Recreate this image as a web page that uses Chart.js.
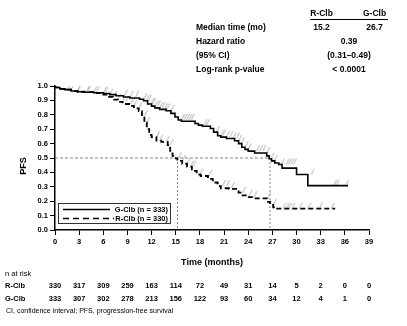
<!DOCTYPE html>
<html>
<head>
<meta charset="utf-8">
<script src="https://cdn.jsdelivr.net/npm/chart.js@4.4.1/dist/chart.umd.min.js"></script>
<style>
  html, body { margin: 0; padding: 0; background: #fff; }
  canvas { display: block; }
</style>
</head>
<body>
<canvas id="pfsChart" width="407" height="326"></canvas>
<script>
const FONT = '"Liberation Sans", Arial, sans-serif';

// Kaplan-Meier steps: time (months) and survival after the step
const gTimes = [0, 0.6, 1.2, 2.0, 2.8, 3.6, 4.8, 6.0, 6.8, 7.6, 8.5, 9.3, 10.5, 11.0, 11.5, 12.0, 12.4, 13.0, 13.8, 14.4, 14.9, 15.3, 15.7, 17.4, 17.8, 18.3, 19.3, 19.7, 20.2, 20.6, 21.3, 22.3, 22.8, 23.2, 23.6, 24.0, 24.8, 26.3, 26.6, 26.9, 27.3, 27.8, 28.2, 30.0, 31.4, 33.2, 36.4];
const gSurv  = [1.0, 0.99, 0.98, 0.975, 0.965, 0.96, 0.957, 0.953, 0.948, 0.94, 0.932, 0.924, 0.917, 0.908, 0.898, 0.875, 0.86, 0.848, 0.838, 0.828, 0.81, 0.785, 0.764, 0.755, 0.74, 0.728, 0.72, 0.705, 0.68, 0.655, 0.645, 0.635, 0.62, 0.6, 0.575, 0.56, 0.548, 0.535, 0.515, 0.495, 0.48, 0.465, 0.455, 0.43, 0.385, 0.308, 0.308];

const rTimes = [0, 0.6, 1.2, 2.0, 2.8, 3.6, 4.8, 6.0, 6.6, 7.2, 7.8, 8.4, 9.2, 9.8, 10.4, 10.8, 11.1, 11.4, 11.7, 12.0, 12.6, 13.2, 14.0, 14.3, 14.6, 15.0, 15.2, 15.8, 16.4, 17.0, 17.6, 18.1, 19.0, 19.6, 20.2, 20.6, 21.6, 22.8, 23.3, 23.8, 24.6, 26.3, 26.7, 27.1, 27.4, 28.3, 34.8];
const rSurv  = [1.0, 0.99, 0.98, 0.975, 0.965, 0.96, 0.957, 0.95, 0.94, 0.925, 0.905, 0.89, 0.875, 0.862, 0.845, 0.825, 0.79, 0.745, 0.7, 0.66, 0.645, 0.62, 0.612, 0.59, 0.55, 0.515, 0.498, 0.48, 0.46, 0.44, 0.41, 0.385, 0.375, 0.355, 0.33, 0.305, 0.29, 0.285, 0.26, 0.24, 0.228, 0.22, 0.195, 0.175, 0.158, 0.148, 0.148];

// censored observations (months)
const gCensor = [2.2, 3.0, 4.1, 5.0, 6.2, 8.8, 9.5, 10.2, 11.2, 11.5, 11.8, 12.1, 12.3, 12.6, 12.9, 13.2, 13.5, 13.8, 14.1, 14.6, 15.9, 16.2, 16.5, 16.8, 17.1, 18.7, 19.0, 20.2, 20.8, 21.0, 21.5, 21.9, 22.3, 22.7, 23.0, 23.3, 23.8, 24.2, 25.2, 25.6, 26.0, 26.5, 27.0, 27.4, 28.3, 28.9, 29.2, 29.5, 29.8, 32.0, 34.8, 35.1, 36.3];
const rCensor = [1.8, 3.0, 4.2, 5.3, 6.4, 7.0, 7.5, 8.0, 8.6, 9.0, 9.6, 10.0, 10.6, 11.3, 11.6, 12.8, 13.2, 14.0, 14.5, 15.5, 16.0, 16.6, 17.0, 17.3, 18.2, 19.3, 21.0, 21.5, 22.1, 23.5, 24.3, 24.9, 26.6, 27.3, 28.5, 28.9, 29.2, 29.6, 30.5, 31.6, 33.0, 34.5];

// number at risk at each x tick
const riskTimes = [0, 3, 6, 9, 12, 15, 18, 21, 24, 27, 30, 33, 36, 39];
const riskR = [330, 317, 309, 259, 163, 114, 72, 49, 31, 14, 5, 2, 0, 0];
const riskG = [333, 307, 302, 278, 213, 156, 122, 93, 60, 34, 12, 4, 1, 0];

const groupNames = ['R-Clb', 'G-Clb'];
const medianTimes = [15.2, 26.7];
const statRows = ['Median time (mo)', 'Hazard ratio', '(95% CI)', 'Log-rank p-value'];
const statValues = ['0.39', '(0.31\u20130.49)', '< 0.0001'];

function survAt(times, surv, t) {
  let s = surv[0];
  for (let i = 0; i < times.length; i++) {
    if (times[i] <= t) s = surv[i];
  }
  return s;
}

function toPoints(times, surv) {
  return times.map((t, i) => ({ x: t, y: surv[i] }));
}

// small grey slash sitting just above the curve
function censorMark() {
  const c = document.createElement('canvas');
  c.width = 6; c.height = 14;
  const g = c.getContext('2d');
  g.strokeStyle = '#b0b0b0';
  g.lineWidth = 1;
  g.beginPath();
  g.moveTo(1.5, 7);
  g.lineTo(4.5, 1);
  g.stroke();
  return c;
}
const mark = censorMark();

const extras = {
  id: 'extras',
  afterDraw(chart) {
    const ctx = chart.ctx;
    const xs = chart.scales.x;
    const area = chart.chartArea;
    ctx.save();
    ctx.fillStyle = '#000';
    ctx.textBaseline = 'middle';

    // statistics block
    const colR = 321.5, colG = 374.5, colBoth = 349, rowX = 196;
    ctx.font = 'bold 8.5px ' + FONT;
    ctx.textAlign = 'center';
    ctx.fillText(groupNames[0], colR, 14);
    ctx.fillText(groupNames[1], colG, 14);
    ctx.strokeStyle = '#000';
    ctx.lineWidth = 1;
    ctx.beginPath();
    ctx.moveTo(310, 19.5);
    ctx.lineTo(388, 19.5);
    ctx.stroke();
    const rowY = [28, 42, 56, 70];
    ctx.textAlign = 'left';
    statRows.forEach((t, i) => ctx.fillText(t, rowX, rowY[i]));
    ctx.textAlign = 'center';
    ctx.fillText(medianTimes[0].toFixed(1), colR, rowY[0]);
    ctx.fillText(medianTimes[1].toFixed(1), colG, rowY[0]);
    statValues.forEach((t, i) => ctx.fillText(t, colBoth, rowY[i + 1]));

    // y axis title, sitting a little below the axis middle
    ctx.save();
    ctx.translate(24, 166);
    ctx.rotate(-Math.PI / 2);
    ctx.font = 'bold 9px ' + FONT;
    ctx.textAlign = 'center';
    ctx.fillText('PFS', 0, 0);
    ctx.restore();

    // legend box inside the plot
    const bx = area.left + 3, by = area.bottom - 27, bw = 112, bh = 20;
    ctx.lineWidth = 0.8;
    ctx.strokeRect(bx + 0.5, by + 0.5, bw, bh);
    ctx.lineWidth = 1.5;
    ctx.beginPath();
    ctx.moveTo(bx + 5, by + 6.5);
    ctx.lineTo(bx + 52, by + 6.5);
    ctx.stroke();
    ctx.setLineDash([6, 4]);
    ctx.beginPath();
    ctx.moveTo(bx + 5, by + 15.5);
    ctx.lineTo(bx + 56, by + 15.5);
    ctx.stroke();
    ctx.setLineDash([]);
    ctx.font = 'bold 7.5px ' + FONT;
    ctx.textAlign = 'right';
    ctx.fillText('G-Clb (n = ' + riskG[0] + ')', bx + bw - 2, by + 6.5);
    ctx.fillText('R-Clb (n = ' + riskR[0] + ')', bx + bw - 2, by + 15.5);

    // number at risk table
    ctx.textAlign = 'left';
    ctx.font = '7.5px ' + FONT;
    ctx.fillText('n at risk', 5, 274);
    ctx.font = 'bold 7.5px ' + FONT;
    ctx.fillText(groupNames[0], 5, 286);
    ctx.fillText(groupNames[1], 5, 298.5);
    ctx.textAlign = 'center';
    riskTimes.forEach((t, i) => {
      const px = xs.getPixelForValue(t);
      ctx.fillText(String(riskR[i]), px, 286);
      ctx.fillText(String(riskG[i]), px, 298.5);
    });

    ctx.textAlign = 'left';
    ctx.font = '7px ' + FONT;
    ctx.fillText('CI, confidence interval; PFS, progression-free survival', 6, 311.5);
    ctx.restore();
  }
};

const ctx = document.getElementById('pfsChart').getContext('2d');
new Chart(ctx, {
  type: 'line',
  data: {
    datasets: [
      {
        label: 'median',
        data: [{ x: 0, y: 0.5 }, { x: medianTimes[1], y: 0.5 }],
        borderColor: '#666',
        borderWidth: 0.8,
        borderDash: [3, 2],
        pointRadius: 0,
        order: 5
      },
      {
        label: 'median R',
        data: [{ x: medianTimes[0], y: 0.5 }, { x: medianTimes[0], y: 0 }],
        borderColor: '#666',
        borderWidth: 0.8,
        borderDash: [2, 2],
        pointRadius: 0,
        order: 5
      },
      {
        label: 'median G',
        data: [{ x: medianTimes[1], y: 0.5 }, { x: medianTimes[1], y: 0 }],
        borderColor: '#666',
        borderWidth: 0.8,
        borderDash: [2, 2],
        pointRadius: 0,
        order: 5
      },
      {
        label: 'G censored',
        data: gCensor.map(t => ({ x: t, y: survAt(gTimes, gSurv, t) })),
        showLine: false,
        pointStyle: mark,
        order: 4
      },
      {
        label: 'R censored',
        data: rCensor.map(t => ({ x: t, y: survAt(rTimes, rSurv, t) })),
        showLine: false,
        pointStyle: mark,
        order: 4
      },
      {
        label: 'G-Clb (n = 333)',
        data: toPoints(gTimes, gSurv),
        stepped: 'after',
        borderColor: '#000',
        borderWidth: 1.6,
        pointRadius: 0,
        order: 1
      },
      {
        label: 'R-Clb (n = 330)',
        data: toPoints(rTimes, rSurv),
        stepped: 'after',
        borderColor: '#000',
        borderWidth: 1.8,
        borderDash: [5, 3],
        pointRadius: 0,
        order: 1
      }
    ]
  },
  options: {
    responsive: false,
    animation: false,
    devicePixelRatio: 1,
    layout: { padding: { top: 86, right: 38, bottom: 56, left: 0 } },
    plugins: {
      legend: { display: false },
      tooltip: { enabled: false }
    },
    scales: {
      x: {
        type: 'linear',
        min: 0,
        max: 39,
        afterFit: s => { s.height = 40; },
        ticks: {
          stepSize: 3,
          color: '#000',
          padding: 2,
          font: { family: FONT, size: 7.5, weight: 'bold' }
        },
        grid: { drawOnChartArea: false, drawTicks: true, tickLength: 5, color: '#000', lineWidth: 1 },
        border: { display: true, color: '#000', width: 1.5 },
        title: {
          display: true,
          text: 'Time (months)',
          color: '#000',
          padding: { top: 0, bottom: 2 },
          font: { family: FONT, size: 9, weight: 'bold' }
        }
      },
      y: {
        type: 'linear',
        min: 0,
        max: 1,
        afterFit: s => { s.width = 55; },
        ticks: {
          stepSize: 0.1,
          color: '#000',
          padding: 2,
          font: { family: FONT, size: 7.5, weight: 'bold' },
          callback: v => v.toFixed(1)
        },
        grid: { drawOnChartArea: false, drawTicks: true, tickLength: 5, color: '#000', lineWidth: 1 },
        border: { display: true, color: '#000', width: 1.5 }
      }
    }
  },
  plugins: [extras]
});
</script>
</body>
</html>
